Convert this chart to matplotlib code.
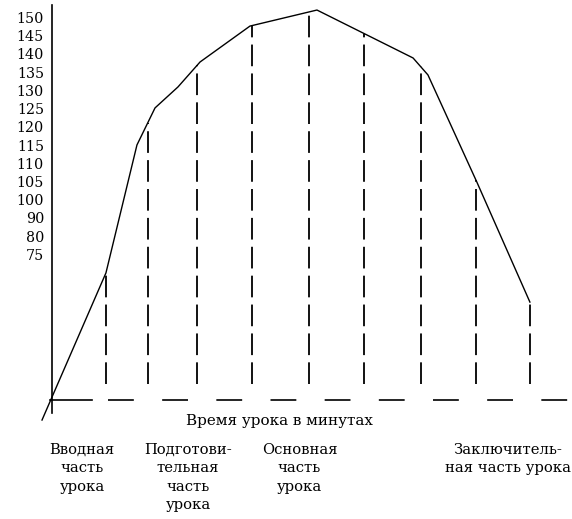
import numpy as np
import matplotlib
matplotlib.use("Agg")
import matplotlib.pyplot as plt

# ---- data (x: minutes of the lesson, y: position on the pulse scale, 0 = x-axis) ----
curve_x = [-0.94, 5.08, 8.0, 9.7, 11.86, 13.94, 18.64, 24.95, 34.0, 35.4, 40.0, 45.0]
curve_y = [-1.0, 7.07, 14.09, 16.12, 17.27, 18.64, 20.61, 21.49, 18.86, 17.93, 12.06, 5.47]

marks_x = [5.1, 9.0, 13.7, 18.8, 24.2, 29.4, 34.7, 39.9, 45.0]

ytick_labels = ["75", "80", "90", "100", "105", "110", "115", "120",
                "125", "130", "135", "140", "145", "150"]
ytick_pos = [8, 9, 10, 11, 12, 13, 14, 15, 16, 17, 18, 19, 20, 21]

axis_title = "Время урока в минутах"
part_labels = ["Вводная\nчасть\nурока",
               "Подготови-\nтельная\nчасть\nурока",
               "Основная\nчасть\nурока",
               "Заключитель-\nная часть урока"]
part_x = [2.85, 12.8, 23.3, 42.9]

# ---- figure ----
W, H = 572, 519
fig = plt.figure(figsize=(W / 100, H / 100), dpi=100)
ax = fig.add_axes([0, 0, 1, 1])
px_per_x = 10.62
px_per_y = 18.23
x0_px, y0_px = 52, 401.8
ax.set_xlim(-x0_px / px_per_x, (W - x0_px) / px_per_x)
ax.set_ylim(-(H - y0_px) / px_per_y, y0_px / px_per_y)
ax.axis("off")

font = "DejaVu Serif"

# vertical axis
ax.plot([0, 0], [-0.62, 21.77], color="black", lw=1.2)
# horizontal axis: solid near origin, dashed afterwards
yax = 0.1
ax.plot([-0.2, 3.8], [yax, yax], color="black", lw=1.2)
ax.plot([5.3, 49.0], [yax, yax], color="black", lw=1.2,
        dashes=(15.5, 17.0))

# curve
ax.plot(curve_x, curve_y, color="black", lw=1.0)

# vertical dashed marks, from just above the axis up to the curve
for mx in marks_x:
    top = np.interp(mx, curve_x, curve_y)
    ax.plot([mx, mx], [1.0, top], color="black", lw=1.3, dashes=(12, 4))

# y tick labels
for lab, pos in zip(ytick_labels, ytick_pos):
    ax.text(-0.75, pos, lab, ha="right", va="center", fontsize=10.3,
            family=font)

# axis title
ax.text(21.4, -1.05, axis_title, ha="center", va="center", fontsize=10.9,
        family=font)

# lesson part labels
for lab, px in zip(part_labels, part_x):
    ax.text(px, -2.25, lab, ha="center", va="top", fontsize=10.6,
            family=font, linespacing=1.4)

fig.savefig("out.png", dpi=100)
